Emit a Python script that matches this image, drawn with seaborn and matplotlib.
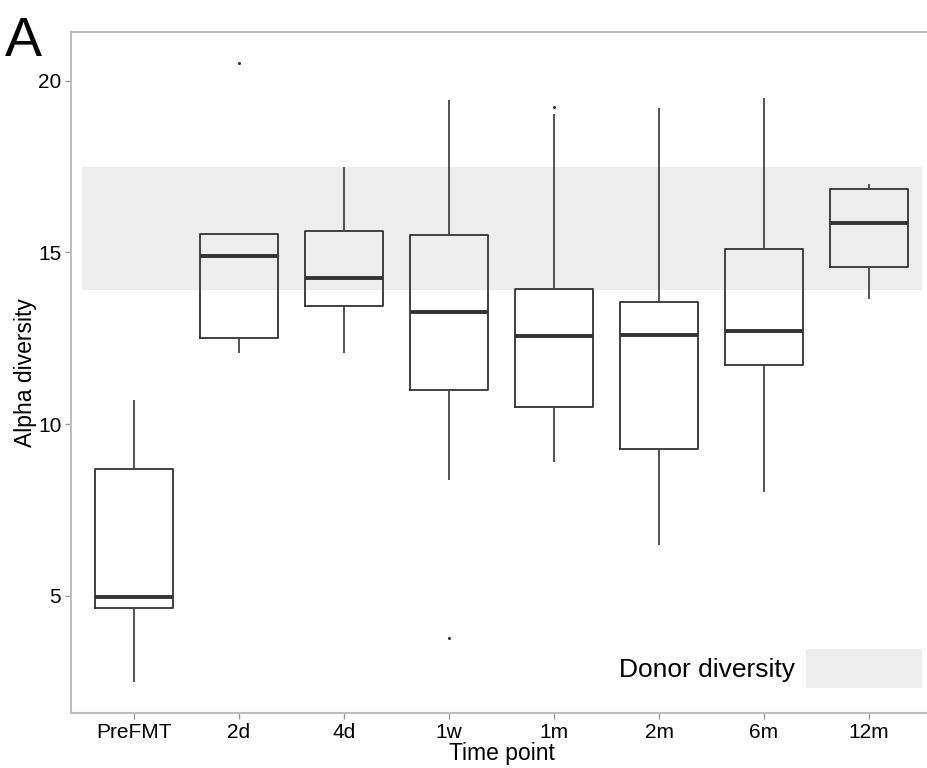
import numpy as np
import pandas as pd
import matplotlib
matplotlib.use("Agg")
import matplotlib.pyplot as plt
import seaborn as sns

# ---- data ----
times = ["PreFMT", "2d", "4d", "1w", "1m", "2m", "6m", "12m"]
whisker_low = [2.50, 12.08, 12.08, 8.37, 8.89, 6.48, 8.03, 13.64]
q1 = [4.66, 12.52, 13.45, 11.00, 10.50, 9.28, 11.72, 14.58]
median = [4.96, 14.89, 14.26, 13.28, 12.58, 12.61, 12.71, 15.86]
q3 = [8.69, 15.55, 15.63, 15.50, 13.94, 13.55, 15.10, 16.85]
whisker_high = [10.70, 15.55, 17.49, 19.44, 19.02, 19.21, 19.50, 16.98]
outliers = [[], [20.52], [], [3.77], [19.25], [], [], []]
donor_low = 13.9
donor_high = 17.5

# Build observations that reproduce the summary statistics exactly
rows = []
for t, lo, a, m, b, hi, out in zip(times, whisker_low, q1, median, q3, whisker_high, outliers):
    if not out:
        vals = [lo, a, m, b, hi]
    else:
        o = out[0]
        if o < lo:
            vals = [o, lo, a, a, m, b, b, hi, hi]
        else:
            vals = [lo, lo, a, a, m, b, b, hi, o]
    for v in vals:
        rows.append({"time": t, "alpha": v})
df = pd.DataFrame(rows)

sns.set_theme(style="white")
plt.rcParams["font.family"] = ["Liberation Sans", "DejaVu Sans"]

fig = plt.figure(figsize=(9.28, 7.68), dpi=100)
ax = fig.add_axes([71 / 928, 55 / 768, 861 / 928, 681 / 768])

ax.fill_between([-0.5, 7.5], donor_low, donor_high, color="#ededed",
                linewidth=0, zorder=0, label="Donor diversity")

sns.boxplot(data=df, x="time", y="alpha", order=times, color="#333333",
            fill=False, width=0.75, linewidth=1.3, whis=1.5, showcaps=False,
            medianprops=dict(linewidth=2.8, color="#333333"),
            whiskerprops=dict(color="#444444", linewidth=1.3),
            flierprops=dict(marker="o", markersize=2.2, markerfacecolor="#333333",
                            markeredgecolor="none"),
            ax=ax)

ax.set_xlim(-0.6, 7.6)
ax.set_ylim(1.59, 21.42)
ax.set_yticks([5, 10, 15, 20])
ax.set_yticklabels(["5", "10", "15", "20"])

for side in ["left", "bottom", "top", "right"]:
    ax.spines[side].set_color("#bdbdbd")
    ax.spines[side].set_linewidth(1.5)
ax.tick_params(axis="both", which="both", length=4, width=1, color="#999999",
               labelsize=15, labelcolor="black", pad=3, left=True, bottom=True)

ax.set_xlabel("Time point", fontsize=16.5, color="black", labelpad=0)
ax.set_ylabel("Alpha diversity", fontsize=16.5, color="black", labelpad=1)

leg = ax.legend(loc="lower right", bbox_to_anchor=((922 - 71) / 861, (713 - 688) / 681),
                frameon=False, markerfirst=False, fontsize=19, borderpad=0,
                borderaxespad=0, handlelength=4.4, handleheight=1.9,
                handletextpad=0.4, labelcolor="black")

fig.text(5 / 928, 1 - 56 / 768, "A", fontsize=40, color="black", ha="left", va="baseline")

fig.savefig("out.png", dpi=100)
